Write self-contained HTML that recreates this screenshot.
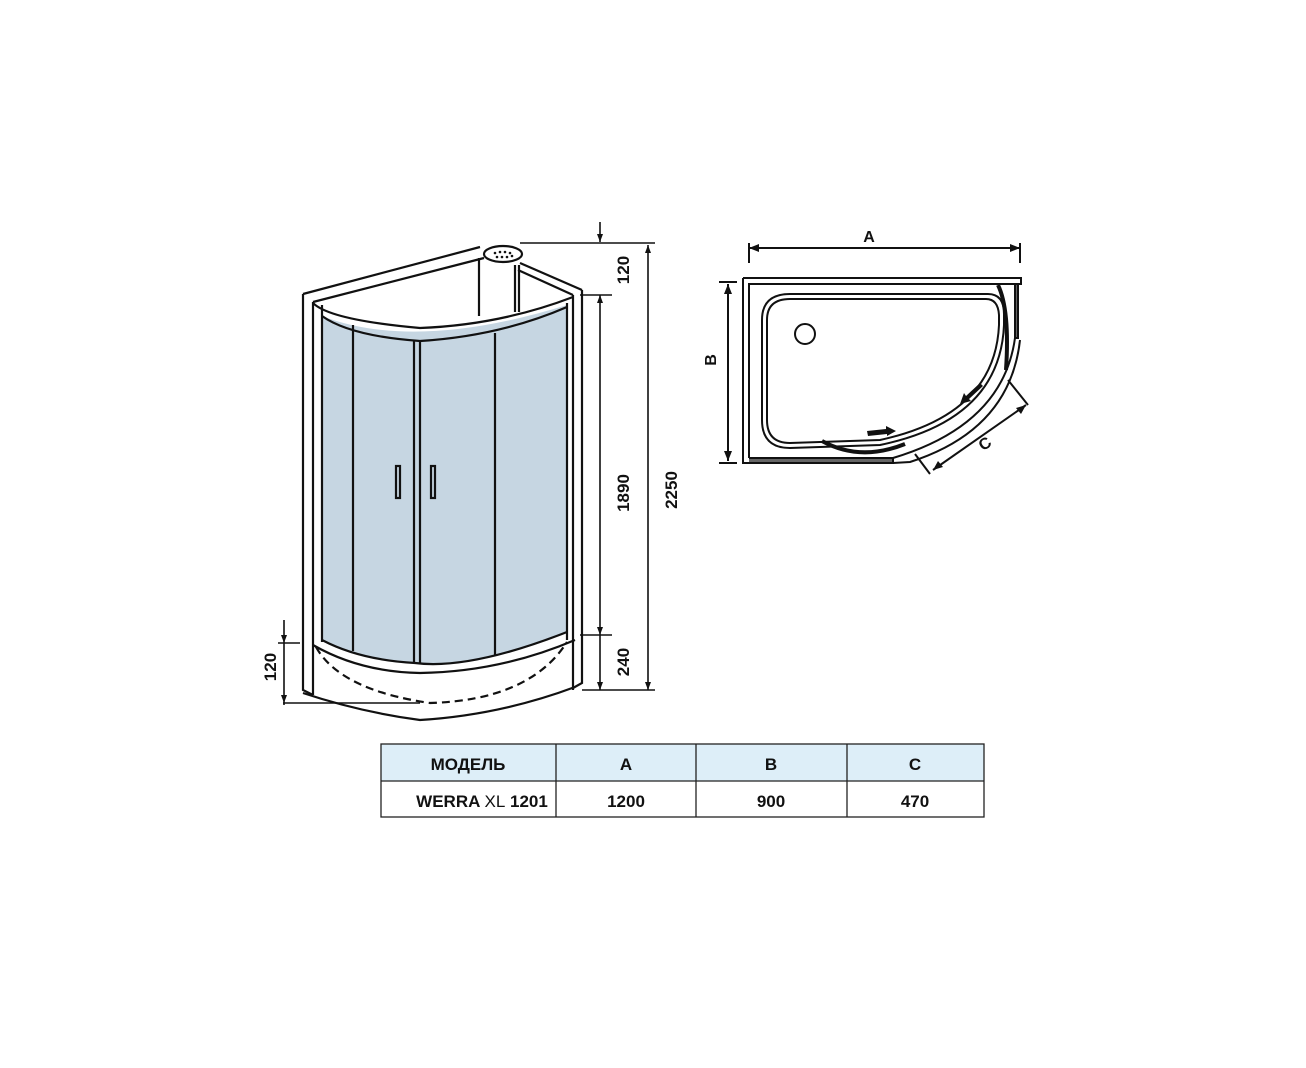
<!DOCTYPE html>
<html><head><meta charset="utf-8"><style>
html,body{margin:0;padding:0;background:#fff;}
svg{display:block;}
text{font-family:"Liberation Sans",sans-serif;font-weight:bold;fill:#111;}
</style></head><body>
<svg width="1306" height="1068" viewBox="0 0 1306 1068" xmlns="http://www.w3.org/2000/svg">
<g fill="none" stroke="#111" stroke-width="2.2">
<!-- glass -->
<path d="M322,316 Q415,352 567,305 L567,632 Q470,670 415,663 Q360,660 322,640 Z" fill="#c6d6e2" stroke="none"/>
<!-- top frame -->
<path d="M303,294 L480,247"/>
<path d="M313,302 L484,258"/>
<path d="M520,263 L582,290"/>
<path d="M518,270 L573,295"/>
<path d="M313,302 L313,695 M303,294 L303,690 L313,695"/>
<path d="M322,305 L322,642"/>
<path d="M573,295 L573,690 M582,290 L582,683 L573,688"/>
<path d="M567,303 L567,640"/>
<!-- top curved rim -->
<path d="M313,303 Q330,320 420,328 Q500,325 573,297"/>
<path d="M322,316 Q350,336 420,341 Q500,336 567,307"/>
<!-- back posts -->
<path d="M479,258 L479,316 M515,265 L515,312 M519,265 L519,312"/>
<!-- panel dividers -->
<path d="M353,325 L353,651 M414,340 L414,663 M420,340 L420,663 M495,333 L495,655"/>
<!-- handles -->
<rect x="396" y="466" width="4" height="32"/>
<rect x="431" y="466" width="4" height="32"/>
<path d="M322,640 Q360,660 415,663 Q470,670 567,632"/>
<!-- tray -->
<path d="M313,645 Q360,672 420,673 Q500,672 575,640"/>
<path d="M303,693 Q360,712 420,720 Q500,715 575,687"/>
<path d="M316,647 Q340,690 430,703 Q530,700 567,642" stroke-dasharray="8,5" stroke-width="2.2"/>
<!-- shower head -->
<ellipse cx="503" cy="254" rx="19" ry="8" fill="#fff"/>
</g>
<g fill="none" stroke="#111" stroke-width="1.6">
<!-- dimensions -->
<path d="M520,243 L655,243 M582,690 L655,690 M580,295 L612,295 M580,635 L612,635"/>
<path d="M600,222 L600,242 M600,295 L600,690 M648,245 L648,690"/>
<path d="M284,620 L284,705 M278,643 L300,643 M283,703 L420,703"/>
</g>
<g fill="#111">
<circle cx="495" cy="253" r="1.3"/><circle cx="500" cy="252" r="1.3"/><circle cx="505" cy="252" r="1.3"/><circle cx="510" cy="253" r="1.3"/><circle cx="497" cy="257" r="1.3"/><circle cx="502" cy="257" r="1.3"/><circle cx="507" cy="257" r="1.3"/><circle cx="512" cy="256" r="1.3"/>
<path d="M600,242 l-3,-8 h6z M600,295 l-3,8 h6z M600,635 l-3,-8 h6z M600,690 l-3,-8 h6z M648,245 l-3,8 h6z M648,690 l-3,-8 h6z M284,643 l-3,-8 h6z M284,703 l-3,-8 h6z"/>
</g>
<text transform="translate(629,270) rotate(-90)" font-size="17" text-anchor="middle">120</text>
<text transform="translate(629,493) rotate(-90)" font-size="17" text-anchor="middle">1890</text>
<text transform="translate(629,662) rotate(-90)" font-size="17" text-anchor="middle">240</text>
<text transform="translate(677,490) rotate(-90)" font-size="17" text-anchor="middle">2250</text>
<text transform="translate(276,667) rotate(-90)" font-size="17" text-anchor="middle">120</text>

<!-- plan view -->
<g fill="none" stroke="#111" stroke-width="2">
<path d="M749,248 L1020,248 M749,243 L749,263 M1020,243 L1020,263"/>
<path d="M719,282 L737,282 M719,463 L737,463 M728,284 L728,461"/>
<path d="M743,278 L1021,278 L1021,284 L749,284 L749,458 M743,278 L743,463 L749,463"/>
<path d="M749,458 L893,458 L893,463 L749,463" fill="#666"/>
<path d="M1015,285 L1015,338 L1018,338 L1018,285" fill="#666"/>
<path d="M1020,340 Q1010,430 910,462 L893,463"/>
<path d="M1015,338 Q1003,425 893,458"/>
<path d="M790,294 L988,294 Q1004,294 1004,314 L1004,325 Q1000,420 880,445 L790,448 Q762,448 762,420 L762,320 Q762,294 790,294 Z"/>
<path d="M790,299 L986,299 Q998,299 999,315 L999,325 Q995,415 880,440 L790,443 Q767,443 767,420 L767,320 Q767,299 790,299 Z"/>
<circle cx="805" cy="334" r="10"/>
<path d="M998,285 Q1010,310 1006,370" stroke-width="4"/>
<path d="M822,441 Q860,462 905,444" stroke-width="4"/>
<path d="M1008,380 L1028,405 M915,454 L930,474"/>
<path d="M933,470 L1026,405" />
</g>
<g fill="#111">
<path d="M749,248 l10,-4 v8z M1020,248 l-10,-4 v8z M728,284 l-4,10 h8z M728,461 l-4,-10 h8z M1026,405 l-10,3 l5,6z M933,470 l10,-3 l-5,-6z"/>
<path d="M867,431 L886,429 L886,426 L896,431 L887,436 L887,434 L868,436z"/>
<path d="M980,383 L966,396 L964,393 L960,404 L971,401 L969,399 L983,386z"/>
</g>
<text x="869" y="242" font-size="16" text-anchor="middle">A</text>
<text transform="translate(716,360) rotate(-90)" font-size="16" text-anchor="middle">B</text>
<text transform="translate(988,448) rotate(-35)" font-size="16" text-anchor="middle">C</text>

<!-- table -->
<rect x="381" y="744" width="603" height="37" fill="#ddeef8"/>
<g fill="none" stroke="#222" stroke-width="1.3">
<rect x="381" y="744" width="603" height="73"/>
<path d="M381,781 L984,781 M556,744 L556,817 M696,744 L696,817 M847,744 L847,817"/>
</g>
<g font-size="17" text-anchor="middle">
<text x="468" y="770">МОДЕЛЬ</text>
<text x="626" y="770">A</text>
<text x="771" y="770">B</text>
<text x="915" y="770">C</text>
<text x="482" y="807">WERRA <tspan font-weight="normal">XL</tspan> 1201</text>
<text x="626" y="807">1200</text>
<text x="771" y="807">900</text>
<text x="915" y="807">470</text>
</g>
</svg>
</body></html>
